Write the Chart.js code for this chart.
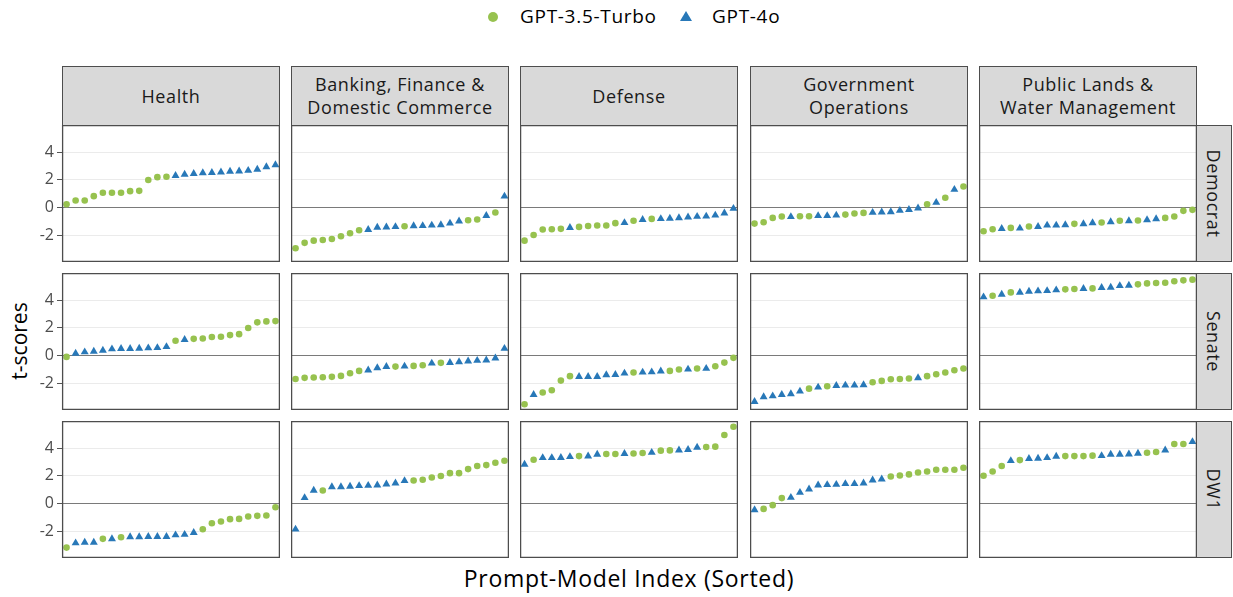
<!DOCTYPE html>
<html><head><meta charset="utf-8">
<script src="https://cdn.jsdelivr.net/npm/chart.js@4.4.1/dist/chart.umd.min.js"></script>
<style>
body{margin:0;background:#fff;}
#wrap{position:relative;width:1233px;height:597px;overflow:hidden;font-family:'Open Sans',sans-serif;color:#000;}
.strip{position:absolute;background:#d9d9d9;border:1.3px solid #4d4d4d;box-sizing:border-box;display:flex;align-items:center;justify-content:center;text-align:center;font-size:18px;color:#1a1a1a;line-height:23px;white-space:pre;letter-spacing:0.6px;}
.rstrip span{display:block;transform:rotate(90deg);white-space:nowrap;}
canvas{position:absolute;}
.txt{position:absolute;white-space:nowrap;}
</style></head><body><div id="wrap"></div>
<script>
// ---- data ----
const categories = ['Health', 'Banking, Finance &\nDomestic Commerce', 'Defense', 'Government\nOperations', 'Public Lands &\nWater Management'];
const rowLabels = ['Democrat', 'Senate', 'DW1'];
const seriesNames = ['GPT-3.5-Turbo', 'GPT-4o'];
const yTickValues = [-2, 0, 2, 4];

// model codes per sorted index: '3' = GPT-3.5-Turbo, '4' = GPT-4o
const healthDemocrat = [0.24, 0.5, 0.5, 0.82, 1.06, 1.06, 1.06, 1.18, 1.2, 1.98, 2.19, 2.22, 2.3, 2.39, 2.44, 2.5, 2.51, 2.55, 2.6, 2.62, 2.67, 2.75, 2.93, 3.07];
const healthDemocratModel = '333333333333444444444444';
const bankingDemocrat = [-2.94, -2.55, -2.39, -2.34, -2.27, -2.07, -1.86, -1.64, -1.6, -1.43, -1.42, -1.39, -1.35, -1.33, -1.32, -1.28, -1.25, -1.14, -0.98, -0.92, -0.87, -0.59, -0.36, 0.81];
const bankingDemocratModel = '333333334444344444433434';
const defenseDemocrat = [-2.39, -1.98, -1.59, -1.57, -1.54, -1.45, -1.4, -1.33, -1.3, -1.3, -1.13, -1.1, -0.96, -0.88, -0.82, -0.81, -0.79, -0.75, -0.7, -0.65, -0.63, -0.56, -0.41, -0.07];
const defenseDemocratModel = '333334333334343444444444';
const governmentDemocrat = [-1.16, -1.06, -0.75, -0.65, -0.67, -0.63, -0.63, -0.6, -0.6, -0.56, -0.51, -0.43, -0.39, -0.36, -0.34, -0.32, -0.22, -0.15, -0.05, 0.24, 0.36, 0.7, 1.3, 1.52];
const governmentDemocratModel = '333343344433344444434343';
const landsDemocrat = [-1.71, -1.57, -1.53, -1.47, -1.5, -1.37, -1.38, -1.28, -1.28, -1.25, -1.18, -1.18, -1.11, -1.08, -1.04, -0.96, -0.97, -0.94, -0.89, -0.82, -0.75, -0.65, -0.24, -0.17];
const landsDemocratModel = '334343444434434343443333';

const healthSenate = [-0.1, 0.15, 0.25, 0.3, 0.37, 0.47, 0.49, 0.49, 0.51, 0.54, 0.56, 0.63, 1.06, 1.14, 1.2, 1.23, 1.33, 1.35, 1.47, 1.54, 1.98, 2.39, 2.46, 2.48];
const healthSenateModel = '344444444444343333333333';
const bankingSenate = [-1.69, -1.61, -1.59, -1.57, -1.54, -1.47, -1.28, -1.11, -1.06, -0.89, -0.8, -0.8, -0.78, -0.75, -0.7, -0.56, -0.53, -0.51, -0.46, -0.41, -0.36, -0.34, -0.19, 0.5];
const bankingSenateModel = '333333334443433434444444';
const defenseSenate = [-3.52, -2.82, -2.67, -2.51, -1.81, -1.49, -1.52, -1.52, -1.52, -1.4, -1.38, -1.28, -1.23, -1.21, -1.19, -1.13, -1.11, -1.01, -0.99, -0.94, -0.94, -0.77, -0.51, -0.17];
const defenseSenateModel = '343333444444344433434333';
const governmentSenate = [-3.33, -2.99, -2.92, -2.82, -2.77, -2.58, -2.39, -2.29, -2.22, -2.17, -2.15, -2.15, -2.12, -1.93, -1.83, -1.71, -1.69, -1.66, -1.62, -1.49, -1.35, -1.23, -1.06, -0.94];
const governmentSenateModel = '444444343444433333433333';
const landsSenate = [4.22, 4.31, 4.41, 4.55, 4.55, 4.62, 4.65, 4.67, 4.72, 4.77, 4.8, 4.82, 4.84, 4.89, 4.91, 5.03, 5.06, 5.13, 5.2, 5.23, 5.25, 5.35, 5.42, 5.47];
const landsSenateModel = '434344444334344443333333';

const healthDW1 = [-3.18, -2.85, -2.8, -2.8, -2.55, -2.55, -2.43, -2.41, -2.41, -2.39, -2.39, -2.39, -2.27, -2.24, -2.1, -1.86, -1.42, -1.3, -1.13, -1.11, -0.94, -0.89, -0.87, -0.27];
const healthDW1Model = '344434344444444333333333';
const bankingDW1 = [-1.86, 0.41, 0.94, 0.94, 1.2, 1.2, 1.23, 1.28, 1.3, 1.32, 1.4, 1.47, 1.64, 1.66, 1.71, 1.88, 1.98, 2.19, 2.19, 2.48, 2.7, 2.77, 2.94, 3.08];
const bankingDW1Model = '444344444444433333333333';
const defenseDW1 = [2.82, 3.16, 3.3, 3.3, 3.31, 3.37, 3.42, 3.42, 3.54, 3.57, 3.57, 3.59, 3.61, 3.64, 3.68, 3.81, 3.83, 3.85, 3.88, 4.05, 4.07, 4.1, 4.94, 5.54];
const defenseDW1Model = '434444344334334334443333';
const governmentDW1 = [-0.46, -0.39, -0.12, 0.39, 0.43, 0.79, 1.03, 1.32, 1.35, 1.37, 1.42, 1.42, 1.47, 1.68, 1.76, 1.95, 2.02, 2.1, 2.24, 2.31, 2.43, 2.43, 2.43, 2.58];
const governmentDW1Model = '433344444444444333333333';
const landsDW1 = [2.0, 2.31, 2.7, 3.08, 3.13, 3.23, 3.25, 3.3, 3.4, 3.42, 3.42, 3.42, 3.45, 3.44, 3.54, 3.54, 3.56, 3.61, 3.66, 3.71, 3.85, 4.29, 4.29, 4.45];
const landsDW1Model = '333434444333344444334334';

const grid = [
  [[healthDemocrat, healthDemocratModel], [bankingDemocrat, bankingDemocratModel], [defenseDemocrat, defenseDemocratModel], [governmentDemocrat, governmentDemocratModel], [landsDemocrat, landsDemocratModel]],
  [[healthSenate, healthSenateModel], [bankingSenate, bankingSenateModel], [defenseSenate, defenseSenateModel], [governmentSenate, governmentSenateModel], [landsSenate, landsSenateModel]],
  [[healthDW1, healthDW1Model], [bankingDW1, bankingDW1Model], [defenseDW1, defenseDW1Model], [governmentDW1, governmentDW1Model], [landsDW1, landsDW1Model]]
];

// ---- layout / style ----
const GREEN = '#97c24f', BLUE = '#2878b8';
const colLeft = [62, 291, 520, 750, 979];
const rowTop = [125, 273, 421];
const PW = 218, PH = 137, AXW = 34;
const wrap = document.getElementById('wrap');

function addDiv(cls, css, html) {
  const d = document.createElement('div');
  d.className = cls; Object.assign(d.style, css); d.innerHTML = html; wrap.appendChild(d); return d;
}

// legend
addDiv('txt', {left: '488px', top: '12px', width: '10px', height: '10px', borderRadius: '50%', background: GREEN}, '');
addDiv('txt', {left: '520px', top: '3px', fontSize: '19px', letterSpacing: '0.7px'}, seriesNames[0]);
addDiv('txt', {left: '680px', top: '11px', width: '0', height: '0', borderLeft: '6px solid transparent', borderRight: '6px solid transparent', borderBottom: '10px solid ' + BLUE}, '');
addDiv('txt', {left: '712px', top: '3px', fontSize: '19px', letterSpacing: '0.7px'}, seriesNames[1]);

// axis titles
addDiv('txt', {left: '19px', top: '341px', fontSize: '21px', transform: 'translate(-50%,-50%) rotate(-90deg)'}, 't-scores');
addDiv('txt', {left: '629px', top: '578px', fontSize: '23px', transform: 'translate(-50%,-50%)', letterSpacing: '0.7px'}, 'Prompt-Model Index (Sorted)');

// strips
categories.forEach((c, i) => addDiv('strip', {left: colLeft[i] + 'px', top: '66px', width: PW + 'px', height: '60px'}, c));
rowLabels.forEach((r, j) => addDiv('strip rstrip', {left: '1196px', top: rowTop[j] + 'px', width: '36px', height: PH + 'px'}, '<span>' + r + '</span>'));

const frame = {
  id: 'frame',
  afterDatasetsDraw(chart) {
    const {ctx, chartArea: a} = chart;
    ctx.save(); ctx.strokeStyle = '#4d4d4d'; ctx.lineWidth = 1.3;
    ctx.strokeRect(a.left + 0.6, a.top + 0.6, a.right - a.left - 1.2, a.bottom - a.top - 1.2);
    ctx.restore();
  }
};

grid.forEach((row, j) => row.forEach(([vals, models], i) => {
  const first = i === 0;
  const cv = document.createElement('canvas');
  const w = PW + (first ? AXW : 0);
  cv.width = w; cv.height = PH;
  cv.style.left = (colLeft[i] - (first ? AXW : 0)) + 'px';
  cv.style.top = rowTop[j] + 'px';
  cv.style.width = w + 'px'; cv.style.height = PH + 'px';
  wrap.appendChild(cv);
  const p3 = [], p4 = [];
  vals.forEach((v, k) => (models[k] === '3' ? p3 : p4).push({x: k + 1, y: v}));
  new Chart(cv, {
    type: 'scatter',
    data: {datasets: [
      {label: seriesNames[0], data: p3, pointStyle: 'circle', pointRadius: 3.3, backgroundColor: GREEN, borderWidth: 0},
      {label: seriesNames[1], data: p4, pointStyle: 'triangle', pointRadius: 4.6, backgroundColor: BLUE, borderWidth: 0}
    ]},
    options: {
      responsive: false, animation: false, events: [],
      layout: {padding: 0, autoPadding: false},
      plugins: {legend: {display: false}, tooltip: {enabled: false}},
      scales: {
        x: {type: 'linear', display: false, min: 0.5, max: 24.5},
        y: {
          type: 'linear', min: -3.93, max: 5.95,
          afterBuildTicks: s => { s.ticks = yTickValues.map(v => ({value: v})); },
          afterFit: s => { s.width = first ? AXW : 0; s.paddingTop = 0; s.paddingBottom = 0; },
          grid: {color: c => (c.tick && c.tick.value === 0) ? '#7a7a7a' : '#ebebeb', lineWidth: 1, drawTicks: first, tickLength: 5, tickColor: '#555'},
          border: {display: false},
          ticks: {display: first, color: '#4d4d4d', font: {family: 'Open Sans', size: 16}, padding: 3}
        }
      }
    },
    plugins: [frame]
  });
}));
</script></body></html>
